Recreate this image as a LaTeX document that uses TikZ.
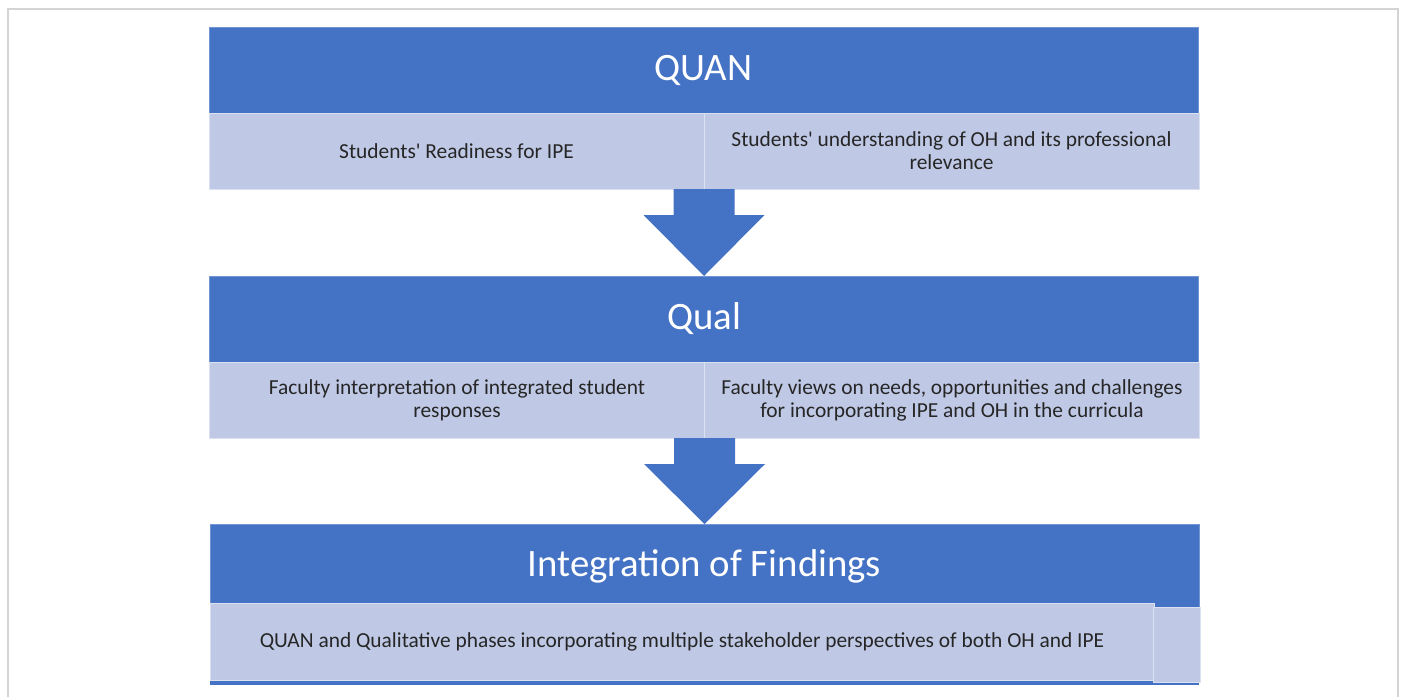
\documentclass[tikz,border=0pt]{standalone}
\usepackage{fontspec}
\setmainfont{Carlito}
\usetikzlibrary{positioning}
\definecolor{hdrblue}{RGB}{68,114,196}
\definecolor{subblue}{RGB}{191,201,229}
\definecolor{txtgray}{RGB}{38,38,38}
\definecolor{framegray}{RGB}{212,212,212}
% block arrow from #1 (bottom of the details) down to #2 (next phase)
\newcommand{\flowarrow}[2]{%
  \fill[flow] ([xshift=-15.25pt]#1) -- ([xshift=-15.25pt,yshift=-13pt]#1)
    -- ([xshift=-30.25pt,yshift=-13pt]#1) -- (#2)
    -- ([xshift=30.25pt,yshift=-13pt]#1) -- ([xshift=15.25pt,yshift=-13pt]#1)
    -- ([xshift=15.25pt]#1) -- cycle;}

\begin{document}
\begin{tikzpicture}[x=0.5pt,y=-0.5pt]
    \tikzstyle{phase}=[fill=hdrblue, draw=hdrblue!75!white, line width=0.4pt, text=white,
        minimum width=494.5pt, minimum height=43pt, inner sep=0pt, outer sep=0pt,
        font=\fontsize{19.4}{23}\selectfont]
    \tikzstyle{detail}=[fill=subblue, draw=white!45!subblue, line width=0.5pt, text=txtgray,
        minimum width=247.5pt, minimum height=38pt, inner sep=0pt, outer sep=0pt,
        align=center, font=\fontsize{10.7}{11.5}\selectfont]
    \tikzstyle{flow}=[fill=hdrblue]

    \useasboundingbox (0,0) rectangle (1402,697);
    \draw[framegray, line width=1pt] (7.5,697) -- (7.5,8.5) -- (1398,8.5) -- (1398,697);

    % quantitative phase
    \node[phase] (quan) at (703.5,70) {QUAN};
    \node[detail, below right=0pt and 0pt of quan.south west] (ready) {Students\textquotesingle{} Readiness for IPE};
    \node[detail, right=0pt of ready] (understand) {Students\textquotesingle{} understanding of OH and its professional\\relevance};

    % qualitative phase
    \node[phase, below=43.5pt of ready.south east] (qual) {Qual};
    \node[detail, below right=0pt and 0pt of qual.south west] (interpret) {Faculty interpretation of integrated student\\responses};
    \node[detail, right=0pt of interpret] (views) {Faculty views on needs, opportunities and challenges\\for incorporating IPE and OH in the curricula};

    % integration
    \node[phase, below=43pt of interpret.south east, minimum height=42.5pt] (integ) {Integration of Findings};
    \fill[hdrblue] (integ.south west) rectangle ([yshift=-38pt]integ.south east);
    \node[detail, below right=-3pt and 0pt of integ.south west, minimum width=472pt, minimum height=38.5pt] (both) {QUAN and Qualitative phases incorporating multiple stakeholder perspectives of both OH and IPE};
    \node[detail, below right=2pt and -0.5pt of both.north east, minimum width=23.5pt, minimum height=37.5pt] (extra) {};

    \flowarrow{ready.south east}{qual.north}
    \flowarrow{interpret.south east}{integ.north}
\end{tikzpicture}
\end{document}
